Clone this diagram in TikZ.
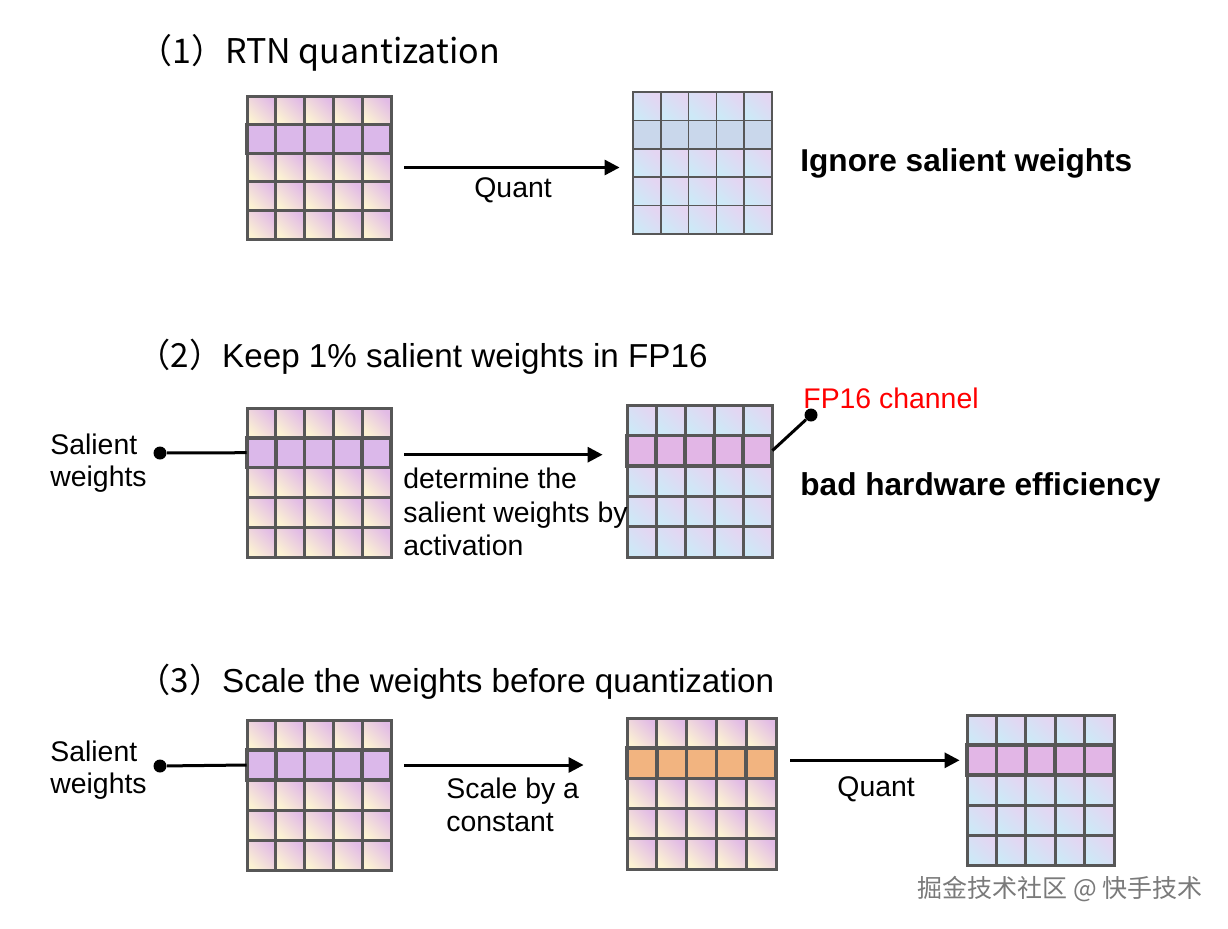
\documentclass[tikz,border=0pt]{standalone}
\usepackage{fontspec}
\setmainfont{Liberation Sans}
\newfontfamily\cjk{Noto Sans CJK SC}
\usetikzlibrary{arrows.meta,fit,calc}
\definecolor{warmY}{HTML}{FCF2D3}
\definecolor{warmP}{HTML}{E2BBE6}
\definecolor{coolB}{HTML}{CDE9F7}
\definecolor{coolL}{HTML}{E4D5F2}
\definecolor{salP}{HTML}{DBB8EA}
\definecolor{rowBlue}{HTML}{C9D7EB}
\definecolor{rowPink}{HTML}{E2B6E6}
\definecolor{rowOrange}{HTML}{F2B480}
\definecolor{gridgray}{HTML}{575757}
\definecolor{wmgray}{HTML}{7A7A7A}
\tikzset{
  txt/.style={font=\fontsize{14.2}{17}\selectfont, inner sep=0, anchor=base west},
  ttl/.style={font=\fontsize{16.6}{20}\selectfont, inner sep=0, anchor=base west},
  ttlone/.style={font=\cjk\fontsize{17}{20}\selectfont, inner sep=0, anchor=base west},
  boldtxt/.style={font=\fontsize{15.8}{19}\selectfont\bfseries, inner sep=0, anchor=base west},
  arr/.style={line width=1.5pt, -{Triangle[length=7.5pt,width=7.5pt]}},
  link/.style={line width=1.5pt},
  dot/.style={circle, fill=black, inner sep=0, minimum size=6.5pt},
  warm/.style={shade, bottom color=warmY, top color=warmP, shading angle=-45},
  cool/.style={shade, bottom color=coolB, top color=coolL, shading angle=-45},
}
% #1 name #2 x0 #3 y0 #4 x1 #5 y1 #6 cell style #7 row-2 style #8 line width #9 row line width
\newcommand\wgrid[9]{%
  \pgfmathsetmacro\cw{(#4-#2)/5}%
  \pgfmathsetmacro\ch{(#5-#3)/5}%
  \foreach \i in {0,...,4}{\foreach \j in {0,...,4}{%
    \ifnum\j=1
      \path[#7] ({#2+\i*\cw},{#3+\j*\ch}) rectangle ++(\cw,\ch);
    \else
      \path[#6] ({#2+\i*\cw},{#3+\j*\ch}) rectangle ++(\cw,\ch);
    \fi}}%
  \foreach \k in {0,...,5}{%
    \draw[draw=gridgray, line width=#8, line cap=rect] ({#2+\k*\cw},#3) -- ({#2+\k*\cw},#5);
    \draw[draw=gridgray, line width=#8, line cap=rect] (#2,{#3+\k*\ch}) -- (#4,{#3+\k*\ch});}%
  \foreach \k in {0,...,5}{%
    \draw[draw=gridgray, line width=#9, line cap=rect] ({#2+\k*\cw},{#3+\ch}) -- ({#2+\k*\cw},{#3+2*\ch});}%
  \draw[draw=gridgray, line width=#9] (#2,{#3+\ch}) rectangle (#4,{#3+2*\ch});
  \node[inner sep=0, fit={(#2,#3) (#4,#5)}] (#1) {};
  \node[inner sep=0, fit={(#2,{#3+\ch}) (#4,{#3+2*\ch})}] (#1r) {};
}
\begin{document}
\begin{tikzpicture}[x=0.5pt, y=-0.5pt]
\fill[white] (0,0) rectangle (1228,928);
\useasboundingbox (0,0) rectangle (1228,928);

% ---------- (1)
\node[ttlone] (t1) at (138,63) {（1）RTN quantization};
\wgrid{g1}{247}{96}{391}{239}{warm}{fill=salP}{1.5pt}{1.6pt}
\wgrid{g2}{633}{92}{772}{234}{cool}{fill=rowBlue}{0.8pt}{0.8pt}
\draw[arr] ($(g1.east)+(13,0)$) -- ($(g1.east -| g2.west)+(-13,0)$);
\node[txt] (q1) at (474,197) {Quant};
\node[boldtxt] (ig) at (800,171) {Ignore salient weights};

% ---------- (2)
\node[ttl] (t2) at (137,367) {{\cjk （2）}Keep 1\% salient weights in FP16};
\wgrid{g3}{247}{408}{391}{557}{warm}{fill=salP}{1.5pt}{1.8pt}
\wgrid{g4}{627}{405}{772}{557}{cool}{fill=rowPink}{1.5pt}{1.8pt}
\node[dot] (d2) at (160,453) {};
\draw[link] (d2) -- (g3r.west);
\node[txt] (sa2) at (50,454) {Salient};
\node[txt] (sb2) at (50,486) {weights};
\draw[arr] ($(g3r.east)+(13,2)$) -- ($(g3r.east -| g4.west)+(-24,2)$);
\node[txt] (da) at (403,488) {determine the};
\node[txt] (db) at (403,522) {salient weights by};
\node[txt] (dc) at (403,555) {activation};
\node[dot] (d4) at (811,415) {};
\draw[link] (g4r.east) -- (d4);
\node[txt, text=red] (fp) at (803,408) {FP16 channel};
\node[boldtxt] (bh) at (800,495) {bad hardware efficiency};

% ---------- (3)
\node[ttl] (t3) at (137,692) {{\cjk （3）}Scale the weights before quantization};
\wgrid{g5}{247}{720}{391}{870}{warm}{fill=salP}{1.5pt}{1.8pt}
\wgrid{g6}{627}{718}{776}{869}{warm}{fill=rowOrange}{1.5pt}{1.8pt}
\wgrid{g7}{967}{715}{1114}{865}{cool}{fill=rowPink}{1.5pt}{1.8pt}
\node[dot] (d5) at (160,766) {};
\draw[link] (d5) -- (g5r.west);
\node[txt] (sa3) at (50,761) {Salient};
\node[txt] (sb3) at (50,793) {weights};
\draw[arr] ($(g5r.east)+(13,0)$) -- ($(g5r.east -| g6.west)+(-43,0)$);
\node[txt] (sc1) at (446,798) {Scale by a};
\node[txt] (sc2) at (446,831) {constant};
\draw[arr] ($(g6r.east)+(14,-3)$) -- ($(g6r.east -| g7.west)+(-7,-3)$);
\node[txt] (q2) at (837,796) {Quant};

% watermark
\node[font=\cjk\fontsize{12.5}{15}\selectfont, text=wmgray, inner sep=0, anchor=base west] (wm) at (917,897) {掘金技术社区 @ 快手技术};
\end{tikzpicture}
\end{document}
